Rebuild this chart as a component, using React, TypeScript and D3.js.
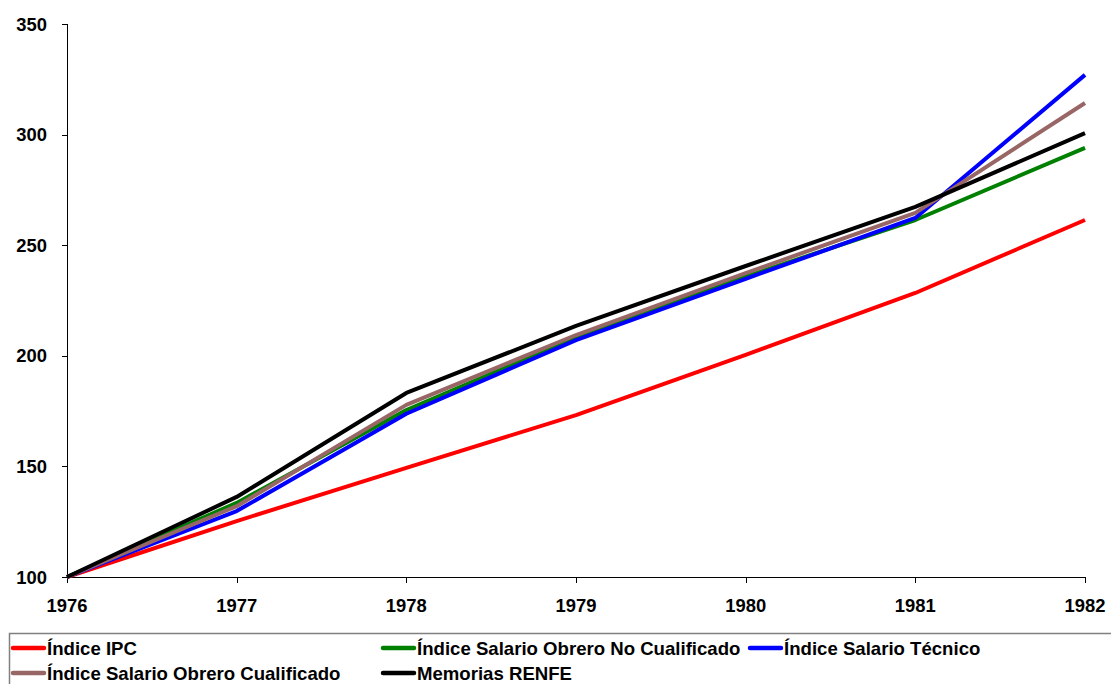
import React from "react";
import * as d3 from "d3";

const years = [1976, 1977, 1978, 1979, 1980, 1981, 1982];
const yTicks = [100, 150, 200, 250, 300, 350];

const ipc = [100, 125.3, 149.3, 173.2, 200.4, 228.4, 261.4];
const noCualificado = [100, 133.5, 175.5, 208.2, 235.8, 261.4, 294.0];
const tecnico = [100, 129.8, 173.8, 207.1, 234.8, 262.3, 327.0];
const cualificado = [100, 132.0, 177.8, 209.4, 237.4, 264.6, 314.3];
const renfe = [100, 136.2, 183.2, 213.5, 240.6, 267.3, 300.7];

const seriesNames = [
  "Índice IPC",
  "Índice Salario Obrero No Cualificado",
  "Índice Salario Técnico",
  "Índice Salario Obrero Cualificado",
  "Memorias RENFE",
];
const seriesColors = ["#ff0000", "#008000", "#0000ff", "#996666", "#000000"];
const seriesData = [ipc, noCualificado, tecnico, cualificado, renfe];

export default function App() {
  const W = 1111;
  const H = 684;
  const x = d3.scalePoint<number>().domain(years).range([67, 1085]);
  const y = d3.scaleLinear().domain([100, 350]).range([577, 24]);
  const line = d3
    .line<number>()
    .x((_, i) => x(years[i]) as number)
    .y((d) => y(d));

  const order = [0, 1, 2, 3, 4];

  const legendPos = [
    { x: 13, y: 648 },
    { x: 383, y: 648 },
    { x: 750, y: 648 },
    { x: 13, y: 673 },
    { x: 383, y: 673 },
  ];

  const font = "'Liberation Sans', Arial, sans-serif";

  return (
    <svg
      width={W}
      height={H}
      style={{ position: "absolute", left: 0, top: 0, background: "#fff" }}
      fontFamily={font}
    >
      <line x1={67.5} y1={y(350)} x2={67.5} y2={577.5} stroke="#000" strokeWidth={1} />
      <line x1={67} y1={577.5} x2={1085.5} y2={577.5} stroke="#000" strokeWidth={1} />
      {yTicks.map((t) => (
        <g key={t}>
          <line x1={62} x2={67.5} y1={Math.round(y(t)) + 0.5} y2={Math.round(y(t)) + 0.5} stroke="#000" />
          <text x={47} y={y(t)} dy="0.36em" textAnchor="end" fontSize={18.4} fontWeight="bold" fill="#000">
            {t}
          </text>
        </g>
      ))}
      {years.map((yr) => (
        <g key={yr}>
          <line
            x1={Math.round(x(yr) as number) + 0.5}
            x2={Math.round(x(yr) as number) + 0.5}
            y1={577}
            y2={583}
            stroke="#000"
          />
          <text x={x(yr)} y={612} textAnchor="middle" fontSize={18.4} fontWeight="bold" fill="#000">
            {yr}
          </text>
        </g>
      ))}
      {order.map((i) => (
        <path
          key={i}
          d={line(seriesData[i]) as string}
          fill="none"
          stroke={seriesColors[i]}
          strokeWidth={4}
          strokeLinejoin="round"
        />
      ))}
      <rect x={9.5} y={633.5} width={1120} height={80} fill="#fff" stroke="#808080" strokeWidth={1.5} />
      {seriesNames.map((n, i) => (
        <g key={n}>
          <line
            x1={legendPos[i].x}
            x2={legendPos[i].x + 31}
            y1={legendPos[i].y}
            y2={legendPos[i].y}
            stroke={seriesColors[i]}
            strokeWidth={4.5}
            strokeLinecap="round"
          />
          <text
            x={legendPos[i].x + 34}
            y={legendPos[i].y}
            dy="0.36em"
            fontSize={18.6}
            fontWeight="bold"
            fill="#000"
          >
            {n}
          </text>
        </g>
      ))}
    </svg>
  );
}
